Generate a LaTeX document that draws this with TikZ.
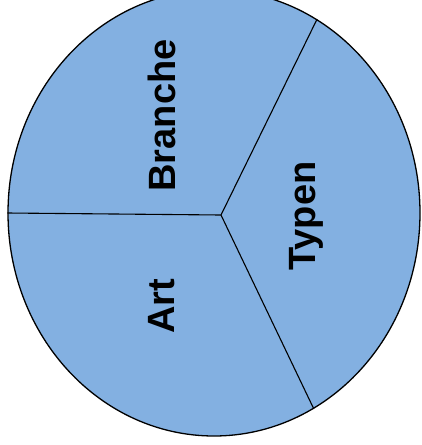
\documentclass[tikz,border=0pt]{standalone}
\usepackage{fontspec}
\setmainfont{Liberation Sans}
\usetikzlibrary{shapes.geometric}
\definecolor{diskcolor}{RGB}{131,176,225}

\begin{document}
\begin{tikzpicture}[
    x=1pt, y=-1pt,
    font=\bfseries\fontsize{38}{38}\selectfont,
    disk/.style={draw=black, ellipse, fill=diskcolor, line width=1.3pt, minimum width=412pt, minimum height=446pt, inner sep=0pt},
    spoke/.style={draw=black, line width=1.1pt},
    sector/.style={rotate=90, anchor=base, inner sep=0pt}
]
    \useasboundingbox (0,0) rectangle (422,445);
    \clip (0,0) rectangle (422,445);

    % Disk and hub
    \node (disk) [disk] at (214,213) {};
    \coordinate (hub) at (221,215);

    % Spokes
    \draw [spoke] (hub) -- (disk.west);
    \draw [spoke] (hub) -- (disk.62);
    \draw [spoke] (hub) -- (disk.297);

    % Sector labels
    \node (branche) [sector] at (175,115.5) {Branche};
    \node (typen) [sector] at (315,216) {Typen};
    \node (art) [sector] at (174,306.5) {Art};

\end{tikzpicture}
\end{document}
